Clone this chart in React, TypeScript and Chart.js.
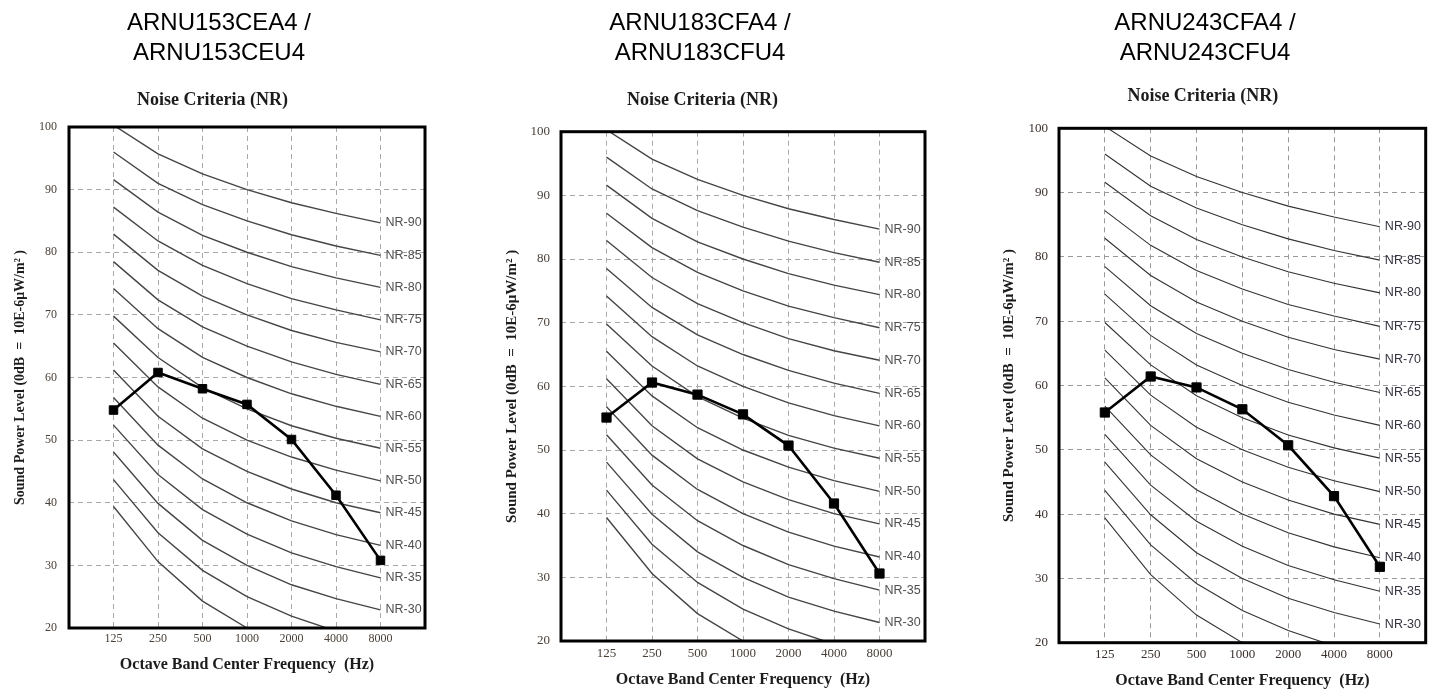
import React, { useEffect, useRef } from 'react';
import { Chart, registerables } from 'chart.js';

Chart.register(...registerables);

// ---------- data ----------
const FREQUENCY_LABELS = ['125', '250', '500', '1000', '2000', '4000', '8000'];
const FREQUENCY_INDEX = [1, 2, 3, 4, 5, 6, 7];
const X_MIN = 0;
const X_MAX = 8;
const Y_MIN = 20;
const Y_MAX = 100;
const Y_STEP = 10;

// NR reference curves, values at 125 ... 8000 Hz
const NR_20 = [39.4, 30.6, 24.3, 20.0, 16.8, 14.4, 12.6];
const NR_25 = [43.7, 35.2, 29.2, 25.0, 21.9, 19.5, 17.7];
const NR_30 = [48.1, 39.9, 34.0, 30.0, 26.9, 24.7, 22.9];
const NR_35 = [52.4, 44.5, 38.9, 35.0, 32.0, 29.8, 28.0];
const NR_40 = [56.8, 49.2, 43.8, 40.0, 37.1, 34.9, 33.2];
const NR_45 = [61.2, 53.8, 48.6, 45.0, 42.2, 40.0, 38.4];
const NR_50 = [65.5, 58.5, 53.5, 50.0, 47.3, 45.2, 43.5];
const NR_55 = [69.8, 63.2, 58.4, 55.0, 52.3, 50.3, 48.7];
const NR_60 = [74.2, 67.8, 63.2, 60.0, 57.4, 55.4, 53.8];
const NR_65 = [78.5, 72.4, 68.1, 65.0, 62.5, 60.5, 58.9];
const NR_70 = [82.9, 77.1, 73.0, 70.0, 67.5, 65.6, 64.1];
const NR_75 = [87.2, 81.8, 77.9, 75.0, 72.6, 70.8, 69.2];
const NR_80 = [91.6, 86.4, 82.7, 80.0, 77.7, 75.9, 74.4];
const NR_85 = [96.0, 91.0, 87.6, 85.0, 82.8, 81.0, 79.5];
const NR_90 = [100.3, 95.7, 92.5, 90.0, 87.9, 86.2, 84.7];

const NR_CURVES = [
  { name: 'NR-20', values: NR_20 },
  { name: 'NR-25', values: NR_25 },
  { name: 'NR-30', values: NR_30 },
  { name: 'NR-35', values: NR_35 },
  { name: 'NR-40', values: NR_40 },
  { name: 'NR-45', values: NR_45 },
  { name: 'NR-50', values: NR_50 },
  { name: 'NR-55', values: NR_55 },
  { name: 'NR-60', values: NR_60 },
  { name: 'NR-65', values: NR_65 },
  { name: 'NR-70', values: NR_70 },
  { name: 'NR-75', values: NR_75 },
  { name: 'NR-80', values: NR_80 },
  { name: 'NR-85', values: NR_85 },
  { name: 'NR-90', values: NR_90 },
];

// Measured sound power levels, 125 ... 8000 Hz
const SOUND_153 = [54.8, 60.8, 58.2, 55.7, 50.1, 41.2, 30.8];
const SOUND_183 = [55.1, 60.6, 58.7, 55.6, 50.7, 41.6, 30.6];
const SOUND_243 = [55.8, 61.4, 59.7, 56.3, 50.7, 42.8, 31.8];

const MODEL_153 = ['ARNU153CEA4 /', 'ARNU153CEU4'];
const MODEL_183 = ['ARNU183CFA4 /', 'ARNU183CFU4'];
const MODEL_243 = ['ARNU243CFA4 /', 'ARNU243CFU4'];

const CHART_TITLE = 'Noise Criteria (NR)';
const X_TITLE = 'Octave Band Center Frequency  (Hz)';
const Y_TITLE = 'Sound Power Level (0dB  =  10E-6\u03bcW/m\u00b2 )';

// ---------- layout / style ----------
const SERIF = "'Liberation Serif', 'Times New Roman', serif";
const SANS = "'Liberation Sans', Arial, sans-serif";
const H = 690;

const PANELS = [
  {
    model: MODEL_153, values: SOUND_153, nameCenter: 219,
    left: 0, width: 454, padRight: 29, yAxisWidth: 69, xAxisHeight: 62,
    subTop: 89.2, subBottom: 16.2, yTitleSize: 14, yTitlePad: 11.6,
    xTitleBottom: 15.4, tickSize: 12, xTickPad: 3.8, yTickPad: 12,
    pointRadius: 6, curveColor: '#454545', curveWidth: 1.4, gridColor: '#a8a8a8',
    tickColor: '#4a4038', labelColor: '#505050',
  },
  {
    model: MODEL_183, values: SOUND_183, nameCenter: 700,
    left: 480, width: 486, padRight: 41, yAxisWidth: 81, xAxisHeight: 49,
    subTop: 89.2, subBottom: 20.9, yTitleSize: 15, yTitlePad: 23,
    xTitleBottom: 0.4, tickSize: 13, xTickPad: 5.2, yTickPad: 11,
    pointRadius: 6.5, curveColor: '#454545', curveWidth: 1.4, gridColor: '#a8a8a8',
    tickColor: '#4a4038', labelColor: '#505050',
  },
  {
    model: MODEL_243, values: SOUND_243, nameCenter: 1205,
    left: 980, width: 484, padRight: 38.3, yAxisWidth: 79, xAxisHeight: 47.3,
    subTop: 85.7, subBottom: 21, yTitleSize: 15, yTitlePad: 20,
    xTitleBottom: 0, tickSize: 13, xTickPad: 4.5, yTickPad: 11,
    pointRadius: 6.5, curveColor: '#333333', curveWidth: 1.1, gridColor: '#999999',
    tickColor: '#3a302c', labelColor: '#333340',
  },
];

const toPoints = (values: number[]) =>
  values.map((v, i) => ({ x: FREQUENCY_INDEX[i], y: v }));

const nrPlugin = {
  id: 'nrLabels',
  afterDatasetsDraw(chart: any, _args: any, opts: any) {
    const { ctx, chartArea, scales } = chart;
    ctx.save();
    ctx.font = `12.5px ${SANS}`;
    ctx.fillStyle = opts.color;
    ctx.textAlign = 'left';
    ctx.textBaseline = 'middle';
    chart.data.datasets.forEach((ds: any) => {
      if (!String(ds.label).startsWith('NR-')) return;
      const last = ds.data[ds.data.length - 1];
      if (last.y < scales.y.min) return;
      const x = scales.x.getPixelForValue(last.x) + 5;
      const y = scales.y.getPixelForValue(last.y);
      ctx.fillText(ds.label, x, y);
    });
    ctx.lineWidth = 3;
    ctx.strokeStyle = '#000';
    ctx.strokeRect(chartArea.left, chartArea.top, chartArea.right - chartArea.left, chartArea.bottom - chartArea.top);
    ctx.restore();
  },
};

function Panel({ p }: { p: any }) {
  const ref = useRef<HTMLCanvasElement>(null);
  useEffect(() => {
    const tickFont = { family: SERIF, size: p.tickSize };
    const datasets: any[] = [
      {
        label: 'Sound power',
        data: toPoints(p.values),
        borderColor: '#000',
        backgroundColor: '#000',
        borderWidth: 2.6,
        pointStyle: 'rect',
        pointRadius: p.pointRadius,
        pointBorderWidth: 1,
        tension: 0,
        clip: false,
      },
      ...NR_CURVES.map((c) => ({
        label: c.name,
        data: toPoints(c.values),
        borderColor: p.curveColor,
        borderWidth: p.curveWidth,
        pointRadius: 0,
        tension: 0,
        clip: 0,
      })),
    ];
    const chart = new Chart(ref.current as HTMLCanvasElement, {
      type: 'line',
      data: { datasets },
      plugins: [nrPlugin],
      options: {
        responsive: false,
        animation: false,
        events: [],
        layout: { padding: { left: 0, right: p.padRight, top: 0, bottom: 0 } },
        plugins: {
          legend: { display: false },
          tooltip: { enabled: false },
          title: {
            display: true,
            text: CHART_TITLE,
            color: '#1c1c1c',
            font: { family: SERIF, size: 18, weight: 'bold', lineHeight: 1.2 },
            padding: { top: p.subTop, bottom: p.subBottom },
          },
          nrLabels: { color: p.labelColor },
        } as any,
        scales: {
          x: {
            type: 'linear',
            min: X_MIN,
            max: X_MAX,
            afterBuildTicks: (s: any) => {
              s.ticks = FREQUENCY_INDEX.map((v) => ({ value: v }));
            },
            afterFit: (s: any) => {
              s.height = p.xAxisHeight;
            },
            ticks: {
              autoSkip: false,
              maxRotation: 0,
              padding: p.xTickPad,
              font: tickFont,
              color: p.tickColor,
              callback: (v: any) => {
                const i = FREQUENCY_INDEX.indexOf(Number(v));
                return i >= 0 ? FREQUENCY_LABELS[i] : '';
              },
            },
            grid: { color: p.gridColor, lineWidth: 1, drawTicks: false, tickLength: 0 },
            border: { display: false, dash: [5, 4] },
            title: {
              display: true,
              text: X_TITLE,
              color: '#1c1c1c',
              font: { family: SERIF, size: 16, weight: 'bold', lineHeight: 1.2 },
              padding: { top: 0, bottom: p.xTitleBottom },
            },
          },
          y: {
            type: 'linear',
            min: Y_MIN,
            max: Y_MAX,
            afterFit: (s: any) => {
              s.width = p.yAxisWidth;
            },
            ticks: {
              stepSize: Y_STEP,
              padding: p.yTickPad,
              font: tickFont,
              color: p.tickColor,
            },
            grid: {
              color: (c: any) =>
                c.tick && (c.tick.value === Y_MIN || c.tick.value === Y_MAX) ? 'rgba(0,0,0,0)' : p.gridColor,
              lineWidth: 1,
              drawTicks: false,
              tickLength: 0,
            },
            border: { display: false, dash: [5, 4] },
            title: {
              display: true,
              text: Y_TITLE,
              color: '#1c1c1c',
              font: { family: SERIF, size: p.yTitleSize, weight: 'bold', lineHeight: 1.2 },
              padding: { top: p.yTitlePad, bottom: 0 },
            },
          },
        },
      } as any,
    });
    return () => chart.destroy();
  }, []);
  return (
    <canvas
      ref={ref}
      width={p.width}
      height={H}
      style={{ position: 'absolute', left: p.left, top: 0, width: p.width, height: H }}
    />
  );
}

export default function App() {
  return (
    <div
      style={{
        position: 'absolute',
        left: 0,
        top: 0,
        width: 1433,
        height: H,
        overflow: 'hidden',
        background: '#fff',
      }}
    >
      {PANELS.map((p, i) => (
        <React.Fragment key={i}>
          <Panel p={p} />
          <div
            style={{
              position: 'absolute',
              top: 7,
              left: p.nameCenter - 160,
              width: 320,
              textAlign: 'center',
              fontFamily: SANS,
              fontSize: 24,
              lineHeight: '30px',
              color: '#000',
            }}
          >
            {p.model.map((line: string, j: number) => (
              <div key={j}>{line}</div>
            ))}
          </div>
        </React.Fragment>
      ))}
    </div>
  );
}
